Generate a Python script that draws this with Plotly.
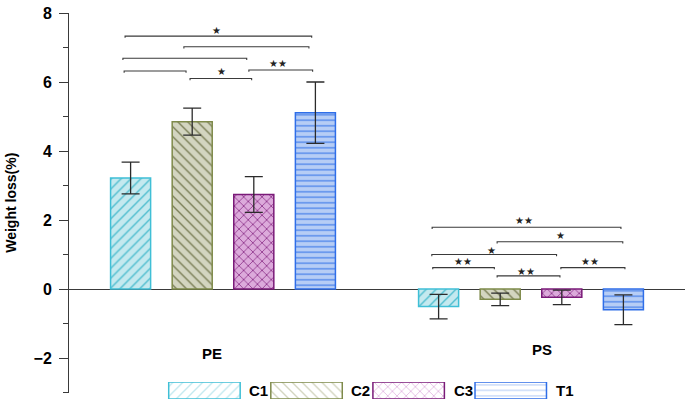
import plotly.graph_objects as go

groups = ["PE", "PS"]
series = ["C1", "C2", "C3", "T1"]
means = {
    "C1": [3.22, -0.51],
    "C2": [4.85, -0.30],
    "C3": [2.74, -0.24],
    "T1": [5.11, -0.60],
}
errors = {
    "C1": [0.46, 0.355],
    "C2": [0.39, 0.18],
    "C3": [0.52, 0.21],
    "T1": [0.89, 0.43],
}
y_ticks = [-2, 0, 2, 4, 6, 8]
y_minor = [-3, -1, 1, 3, 5, 7]

styles = {
    "C1": dict(bg="#c4e9ef", fg="#4fbdcf", edge="#3fbfd6", shape="/", size=7),
    "C2": dict(bg="#d3d5c0", fg="#7a7e56", edge="#7e8a4a", shape="\\", size=7),
    "C3": dict(bg="#dcaadb", fg="#7e1c7a", edge="#7a1a78", shape="x", size=6.5),
    "T1": dict(bg="#b6cdf5", fg="#3a78e8", edge="#2f6ee8", shape="-", size=5.5),
}

# significance brackets: group index, x0 offset, x1 offset, height, label, label x offset, label y
brackets = [
    (0, -0.318, 0.288, 7.33, "★", -0.02, 7.49),
    (0, -0.127, 0.279, 7.02, "", 0, 0),
    (0, -0.325, 0.077, 6.69, "", 0, 0),
    (0, -0.321, -0.120, 6.32, "", 0, 0),
    (0, -0.107, 0.093, 6.10, "★", -0.006, 6.30),
    (0, 0.084, 0.291, 6.35, "★★", 0.18, 6.55),
    (1, -0.321, 0.292, 1.79, "★★", -0.023, 2.00),
    (1, -0.110, 0.298, 1.37, "★", 0.096, 1.54),
    (1, -0.322, 0.083, 1.00, "★", -0.128, 1.13),
    (1, -0.319, -0.119, 0.62, "★★", -0.222, 0.79),
    (1, -0.110, 0.094, 0.38, "★★", -0.016, 0.52),
    (1, 0.097, 0.305, 0.62, "★★", 0.192, 0.81),
]

FONT = "Liberation Sans, Arial, sans-serif"

fig = go.Figure()
for s in series:
    st = styles[s]
    fig.add_trace(go.Bar(
        x=groups, y=means[s], name=s, showlegend=False,
        marker=dict(
            color=st["bg"],
            line=dict(color=st["edge"], width=1.5),
            pattern=dict(shape=st["shape"], fgcolor=st["fg"], bgcolor=st["bg"],
                         size=st["size"], solidity=0.2, fillmode="replace"),
        ),
        error_y=dict(type="data", array=errors[s], visible=True,
                     color="#2b2b2b", thickness=1.3, width=9),
    ))

# legend keys drawn as large patterned swatches on a small helper axis
fig.add_trace(go.Bar(
    x=series, y=[1] * len(series), base=0, width=0.7,
    xaxis="x2", yaxis="y2", showlegend=False, hoverinfo="skip",
    marker=dict(
        color=[styles[s]["bg"] for s in series],
        line=dict(color=[styles[s]["edge"] for s in series], width=1.5),
        pattern=dict(shape=[styles[s]["shape"] for s in series],
                     fgcolor=[styles[s]["fg"] for s in series],
                     bgcolor=[styles[s]["bg"] for s in series],
                     size=[styles[s]["size"] for s in series],
                     solidity=0.2, fillmode="replace"),
    ),
))

shapes = []
annotations = []
hook = 0.05
for g, a, b, h, lab, lx, ly in brackets:
    x0 = g + a
    x1 = g + b
    shapes.append(dict(
        type="path", xref="x", yref="y",
        path=f"M {x0},{h-hook} L {x0},{h} L {x1},{h} L {x1},{h-hook}",
        line=dict(color="#3a3a3a", width=1.1),
    ))
    if lab:
        annotations.append(dict(
            x=g + lx, y=ly, xref="x", yref="y", text=lab, showarrow=False,
            font=dict(size=10, color="#222222", family="DejaVu Sans"),
            xanchor="center", yanchor="middle",
        ))

annotations.append(dict(x=-0.035, y=-1.88, xref="x", yref="y", text="<b>PE</b>",
                        showarrow=False, font=dict(size=15, color="black", family=FONT)))
annotations.append(dict(x=1.035, y=-1.74, xref="x", yref="y", text="<b>PS</b>",
                        showarrow=False, font=dict(size=15, color="black", family=FONT)))
for i, s in enumerate(series):
    annotations.append(dict(x=i + 0.42, y=0.5, xref="x2", yref="y2", text=f"<b>{s}</b>",
                            showarrow=False, xanchor="left", yanchor="middle",
                            font=dict(size=15, color="black", family=FONT)))

fig.update_layout(
    width=685, height=404,
    margin=dict(l=69, r=0, t=13, b=0),
    paper_bgcolor="white", plot_bgcolor="white",
    barmode="group", bargap=0.2, bargroupgap=0.35,
    font=dict(family=FONT, color="black"),
    showlegend=False,
    hovermode=False,
    shapes=shapes,
    annotations=annotations,
    xaxis=dict(range=[-0.5, 1.5], showticklabels=False, showgrid=False,
               showline=False, ticks="", zeroline=False, domain=[0, 1]),
    yaxis=dict(range=[-3, 8], domain=[0.0294, 1], automargin=False,
               tickvals=y_ticks, ticktext=[f"<b>{v}</b>".replace("-", "−") for v in y_ticks],
               showgrid=False, showline=True, linecolor="#3a3a3a", linewidth=1,
               ticks="outside", ticklen=9, tickcolor="#3a3a3a", ticklabelstandoff=4,
               tickfont=dict(size=16, color="black"),
               minor=dict(tickvals=y_minor, ticks="outside", ticklen=5, tickcolor="#3a3a3a"),
               zeroline=True, zerolinecolor="#3a3a3a", zerolinewidth=1,
               title=dict(text="<b>Weight loss(%)</b>", font=dict(size=14), standoff=13)),
    xaxis2=dict(domain=[0.137, 0.8], range=[-0.5, 3.5], anchor="y2", visible=False,
                showgrid=False, zeroline=False),
    yaxis2=dict(domain=[0.0128, 0.056], range=[0, 1], anchor="x2", visible=False,
                showgrid=False, zeroline=False),
)
fig.write_html("out.html", config={"displayModeBar": False},
               post_script="document.body.style.margin='0px';")
